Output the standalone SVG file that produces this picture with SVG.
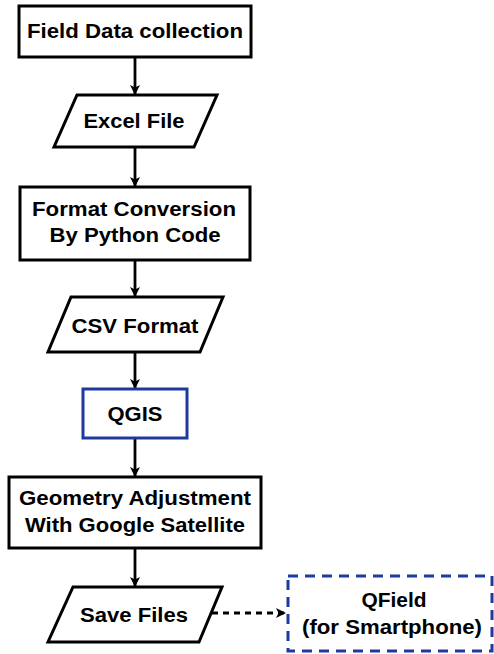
<svg xmlns="http://www.w3.org/2000/svg" width="494" height="654" viewBox="0 0 494 654">
<style>
.n{fill:#fff;stroke:#000;stroke-width:3}
.b{fill:#fff;stroke:#1f3a9f;stroke-width:3}
.d{fill:#fff;stroke:#1f3a9f;stroke-width:3;stroke-dasharray:10 7}
text{font-family:"Liberation Sans",Arial,sans-serif;font-weight:bold;font-size:20px;text-anchor:middle;fill:#000}
.c{stroke:#000;stroke-width:2.8;fill:none}
</style>
<defs>
<marker id="ah" viewBox="0 0 10 12" refX="10" refY="6" markerWidth="10" markerHeight="12" markerUnits="userSpaceOnUse" orient="auto">
<path d="M0,1 L10,6 L0,11 L2.5,6 z" fill="#000"/>
</marker>
</defs>
<g id="connectors">
<line class="c" x1="135" y1="57" x2="135" y2="95" marker-end="url(#ah)"/>
<line class="c" x1="135" y1="147" x2="135" y2="187" marker-end="url(#ah)"/>
<line class="c" x1="135" y1="260" x2="135" y2="297" marker-end="url(#ah)"/>
<line class="c" x1="135" y1="352" x2="135" y2="389" marker-end="url(#ah)"/>
<line class="c" x1="135" y1="438" x2="135" y2="477" marker-end="url(#ah)"/>
<line class="c" x1="135" y1="548" x2="135" y2="587" marker-end="url(#ah)"/>
<line class="c" x1="212" y1="613" x2="286" y2="613" stroke-dasharray="6 5" marker-end="url(#ah)"/>
</g>
<g id="field-data">
<rect class="n" x="19" y="6" width="232" height="51"/>
<text x="135" y="38" textLength="216" lengthAdjust="spacingAndGlyphs">Field Data collection</text>
</g>
<g id="excel">
<polygon class="n" points="77,95 217,95 194,147 54,147"/>
<text x="134" y="128" textLength="101" lengthAdjust="spacingAndGlyphs">Excel File</text>
</g>
<g id="format-conversion">
<rect class="n" x="20" y="187" width="230" height="73"/>
<text x="134" y="216" textLength="204" lengthAdjust="spacingAndGlyphs">Format Conversion</text>
<text x="135" y="242" textLength="171" lengthAdjust="spacingAndGlyphs">By Python Code</text>
</g>
<g id="csv">
<polygon class="n" points="71,297 223,297 200,352 48,352"/>
<text x="135" y="333" textLength="127" lengthAdjust="spacingAndGlyphs">CSV Format</text>
</g>
<g id="qgis">
<rect class="b" x="83" y="389" width="104" height="49"/>
<text x="135" y="421" textLength="55" lengthAdjust="spacingAndGlyphs">QGIS</text>
</g>
<g id="geometry">
<rect class="n" x="9" y="477" width="252" height="71"/>
<text x="135" y="505" textLength="232" lengthAdjust="spacingAndGlyphs">Geometry Adjustment</text>
<text x="135" y="532" textLength="220" lengthAdjust="spacingAndGlyphs">With Google Satellite</text>
</g>
<g id="save-files">
<polygon class="n" points="73,587 222,587 199,642 48,642"/>
<text x="134" y="622" textLength="108" lengthAdjust="spacingAndGlyphs">Save Files</text>
</g>
<g id="qfield">
<rect class="d" x="288" y="576" width="204" height="75"/>
<text x="394" y="607" textLength="65" lengthAdjust="spacingAndGlyphs">QField</text>
<text x="392" y="634" textLength="180" lengthAdjust="spacingAndGlyphs">(for Smartphone)</text>
</g>
</svg>
